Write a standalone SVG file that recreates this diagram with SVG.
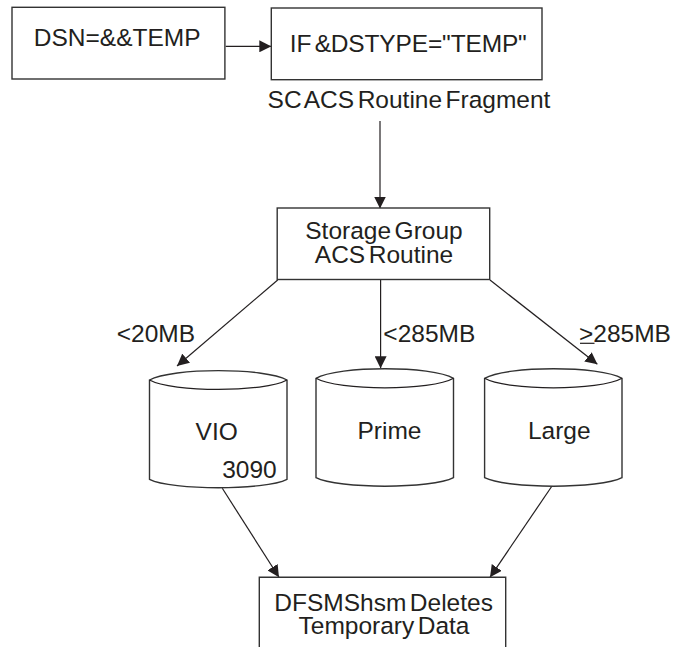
<svg xmlns="http://www.w3.org/2000/svg" width="674" height="647" viewBox="0 0 674 647">
<style>
text{font-family:"Liberation Sans",Arial,sans-serif;font-size:24.5px;word-spacing:-3.300px;fill:#231f20;text-anchor:middle}
.s{fill:none;stroke:#231f20;stroke-width:1.200}
.b{fill:#fff;stroke:#333;stroke-width:1.400}
</style>
<defs><marker id="a" viewBox="0 0 12 12" refX="12" refY="6" markerWidth="12" markerHeight="12" markerUnits="userSpaceOnUse" orient="auto"><path d="M0 0L12 6L0 12Z" fill="#231f20"/></marker></defs>
<rect width="674" height="647" fill="#fff"/>
<g id="connectors">
<path class="s" marker-end="url(#a)" d="M225.700 46.300H271.300"/>
<path class="s" marker-end="url(#a)" d="M380 121V208.500"/>
<path class="s" marker-end="url(#a)" d="M277.700 280L177 366"/>
<path class="s" marker-end="url(#a)" d="M380.600 280V368.300"/>
<path class="s" marker-end="url(#a)" d="M490 280L597.400 364.300"/>
<path class="s" marker-end="url(#a)" d="M222.300 488.300L279 577.300"/>
<path class="s" marker-end="url(#a)" d="M552 486L490 577.300"/>
</g>
<g id="n1"><rect class="b" x="12" y="7.300" width="212.900" height="71.700"/><text x="117.200" y="45.700">DSN=&amp;&amp;TEMP</text></g>
<g id="n2"><rect class="b" x="271.300" y="8" width="270.700" height="71.700"/><text x="408.300" y="52" textLength="237">IF &amp;DSTYPE="TEMP"</text></g>
<text id="caption" x="409" y="107.700">SC ACS Routine Fragment</text>
<g id="n3"><rect class="b" x="277.200" y="208" width="212.500" height="71.500"/><text x="384" y="238.700">Storage Group</text><text x="384" y="262.700">ACS Routine</text></g>
<text x="155.900" y="341.700">&lt;20MB</text>
<text x="429.300" y="341.700">&lt;285MB</text>
<text x="625" y="341.700">&gt;285MB</text>
<path class="s" d="M580 343.300H594.500"/>
<g id="vio"><path class="b" d="M149.500 380C172 367.500 265 367.500 287 380V479.300C265 490.500 172 490.500 149.500 479.300Z"/><path class="s" d="M149.500 380C172 392.500 265 392.500 287 380"/><text x="216.700" y="440">VIO</text><text x="249.500" y="477.700">3090</text></g>
<g id="prime"><path class="b" d="M316 378.300C338 365.500 432 365.500 453.500 378.300V477.700C432 489 338 489 316 477.700Z"/><path class="s" d="M316 378.300C338 391 432 391 453.500 378.300"/><text x="389.500" y="439">Prime</text></g>
<g id="large"><path class="b" d="M484.600 378.300C507 365.500 600 365.500 622 378.300V477.700C600 489 507 489 484.600 477.700Z"/><path class="s" d="M484.600 378.300C507 391 600 391 622 378.300"/><text x="559.300" y="439.300">Large</text></g>
<g id="n4"><path class="b" d="M259.300 647V577.300H505.700V647"/><text x="383.600" y="611">DFSMShsm Deletes</text><text x="384" y="634.300">Temporary Data</text></g>
</svg>
